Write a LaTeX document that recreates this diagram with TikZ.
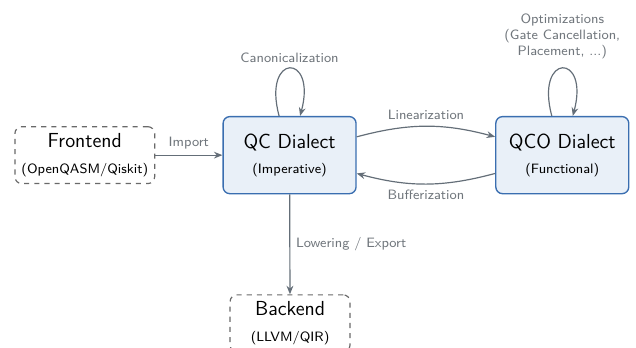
\documentclass[tikz,border=0pt]{standalone}
\usepackage{tikz}
\usetikzlibrary{arrows.meta}
\definecolor{dialectblue}{RGB}{58,110,176}
\definecolor{dialectfill}{RGB}{233,240,248}
\definecolor{extgray}{RGB}{105,105,105}
\definecolor{flowgray}{RGB}{100,110,120}
\definecolor{passgray}{RGB}{112,118,124}

\begin{document}
\begin{tikzpicture}[>={Stealth[length=5pt,width=4pt]}, scale=1.0,
    dialect/.style={draw=dialectblue, fill=dialectfill, line width=0.8pt,
      rounded corners=4pt, minimum width=2.76cm, minimum height=1.6cm,
      align=center, font=\sffamily\large},
    external/.style={draw=extgray, dashed, line width=0.7pt,
      rounded corners=4pt, minimum height=1.18cm,
      align=center, font=\sffamily\large},
    flow/.style={->, draw=flowgray, line width=0.7pt},
    pass/.style={text=passgray, font=\sffamily\footnotesize, align=center}]
  \useasboundingbox (0,0) rectangle (13.2,7.22);
  % dialects
  \node[dialect] (qc)  at (6.01,4.00)  {QC Dialect\\[1pt]{\footnotesize (Imperative)}};
  \node[dialect] (qco) at (11.67,4.00) {QCO Dialect\\[1pt]{\footnotesize (Functional)}};
  % entry and exit points
  \node[external, minimum width=2.9cm]  (frontend) at (1.76,4.00) {Frontend\\[1pt]{\footnotesize (OpenQASM/Qiskit)}};
  \node[external, minimum width=2.49cm] (backend)  at (6.02,0.51) {Backend\\[1pt]{\footnotesize (LLVM/QIR)}};
  % conversions
  \draw[flow] (frontend) -- node[pass, above] {Import} (qc);
  \draw[flow] ([yshift=0.38cm]qc.east) to[bend left=15]
    node[pass, above] {Linearization} ([yshift=0.38cm]qco.west);
  \draw[flow] ([yshift=-0.38cm]qco.west) to[bend left=15]
    node[pass, below] {Bufferization} ([yshift=-0.38cm]qc.east);
  \draw[flow] (qc) -- node[pass, right, pos=0.5] {Lowering / Export} (backend);
  % passes on one dialect
  \draw[flow] (qc) to[loop above] node[pass, above] {Canonicalization} (qc);
  \draw[flow] (qco) to[loop above]
    node[pass, above=2pt] {Optimizations\\(Gate Cancellation,\\Placement, ...)} (qco);
\end{tikzpicture}
\end{document}
